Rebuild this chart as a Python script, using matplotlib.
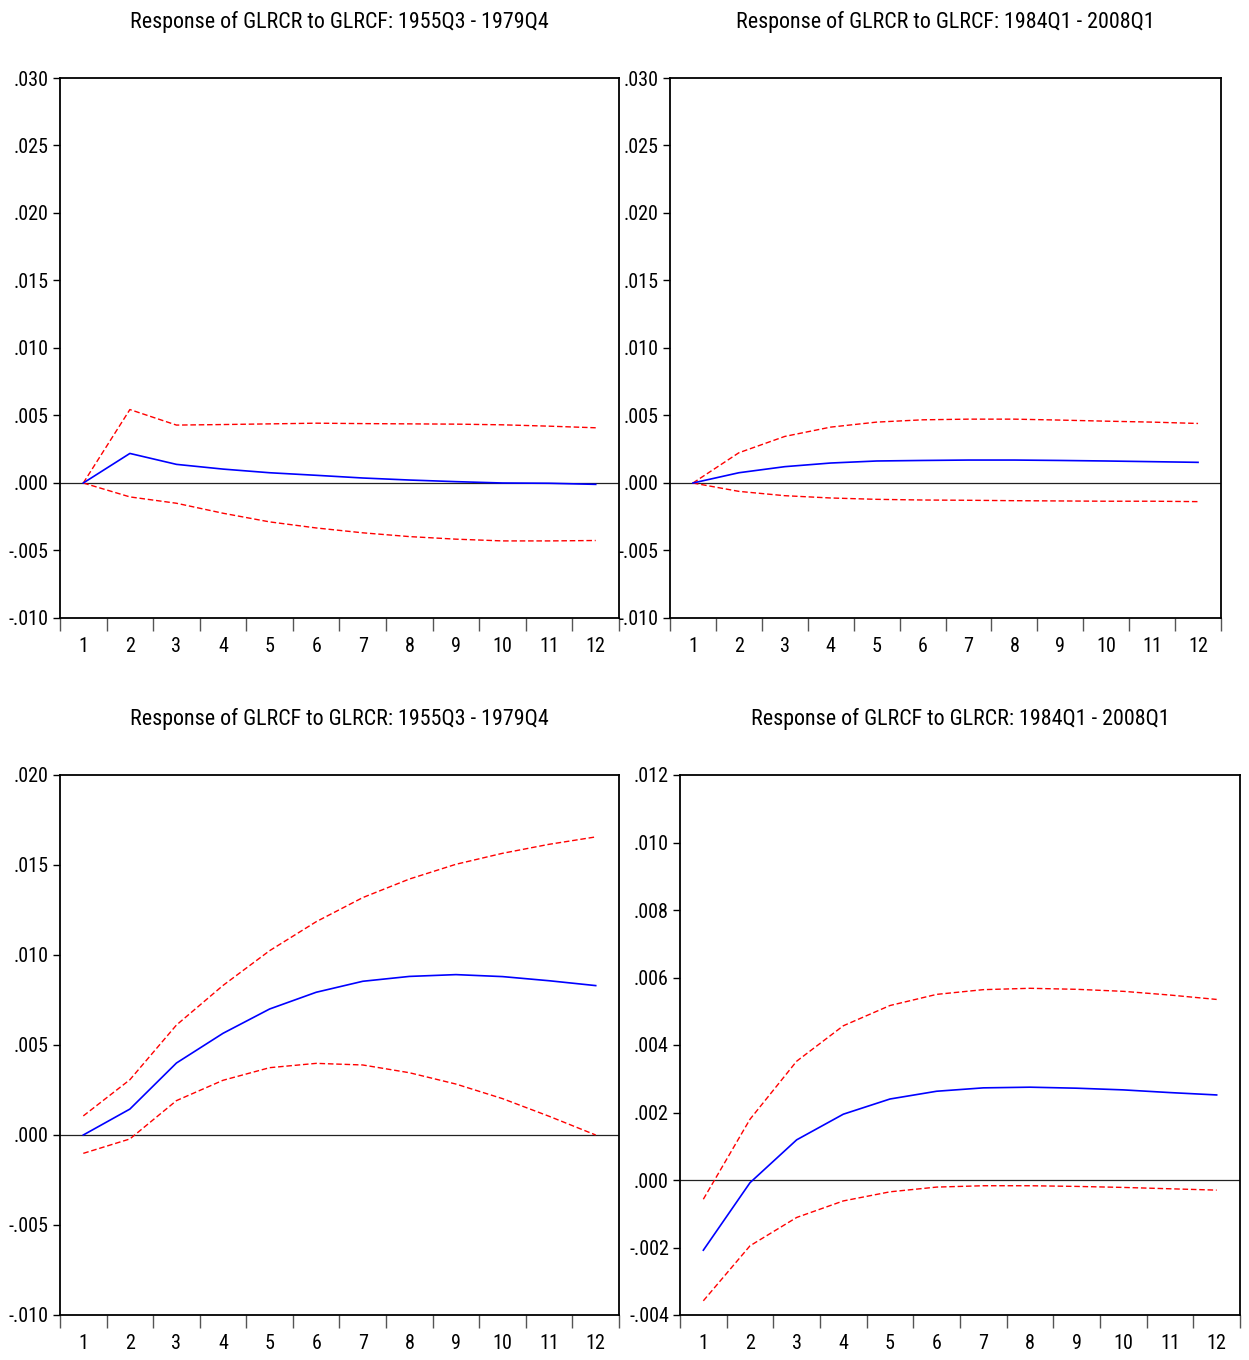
import matplotlib
matplotlib.use("Agg")
import matplotlib.pyplot as plt
from matplotlib import font_manager
from matplotlib.ticker import FuncFormatter, FixedLocator
import numpy as np

# ---- pick a narrow sans font if one is installed ----
_fonts = font_manager.fontManager.ttflist
_names = {f.name for f in _fonts}
_narrow = None
for cand in ['Liberation Sans Narrow', 'Arial Narrow', 'Roboto Condensed', 'Open Sans Condensed',
             'DejaVu Sans Condensed', 'Noto Sans Condensed', 'Noto Sans Display Condensed']:
    if cand in _names:
        _narrow = (cand, 'normal')
        break
if _narrow is None:
    for f in _fonts:
        if str(f.stretch) in ('condensed', 'semi-condensed', 'extra-condensed', '75', '87', '62'):
            _narrow = (f.name, f.stretch)
            break
if _narrow is None:
    _narrow = ('Liberation Sans', 'normal')
    TICK_FS, TITLE_FS = 13, 14.5
else:
    TICK_FS, TITLE_FS = 14.5, 15.8
FONT_FAMILY = [_narrow[0], 'DejaVu Sans']
FONT_STRETCH = _narrow[1]
plt.rcParams['font.family'] = FONT_FAMILY
plt.rcParams['font.stretch'] = FONT_STRETCH

periods = list(range(1, 13))

# Panel 1: Response of GLRCR to GLRCF: 1955Q3 - 1979Q4
p1_resp = [0.0, 0.00219, 0.00138, 0.00103, 0.00076, 0.00057, 0.00037, 0.00022, 0.00010, 0.0, -0.00002, -0.00010]
p1_upper = [0.0, 0.00544, 0.00429, 0.00433, 0.00438, 0.00443, 0.00440, 0.00438, 0.00436, 0.00431, 0.00421, 0.00409]
p1_lower = [0.0, -0.00103, -0.00150, -0.00224, -0.00288, -0.00333, -0.00369, -0.00397, -0.00416, -0.00429, -0.00429, -0.00426]

# Panel 2: Response of GLRCR to GLRCF: 1984Q1 - 2008Q1
p2_resp = [0.0, 0.00076, 0.00121, 0.00148, 0.00163, 0.00167, 0.00170, 0.00170, 0.00167, 0.00163, 0.00158, 0.00153]
p2_upper = [0.0, 0.00224, 0.00345, 0.00414, 0.00451, 0.00468, 0.00473, 0.00473, 0.00466, 0.00458, 0.00451, 0.00441]
p2_lower = [0.0, -0.00062, -0.00094, -0.00111, -0.00121, -0.00126, -0.00128, -0.00131, -0.00133, -0.00135, -0.00135, -0.00138]

# Panel 3: Response of GLRCF to GLRCR: 1955Q3 - 1979Q4
p3_resp = [0.0, 0.00144, 0.00400, 0.00565, 0.00700, 0.00793, 0.00854, 0.00881, 0.00891, 0.00880, 0.00857, 0.00830]
p3_upper = [0.00106, 0.00307, 0.00611, 0.00831, 0.01024, 0.01185, 0.01319, 0.01422, 0.01504, 0.01565, 0.01615, 0.01656]
p3_lower = [-0.00102, -0.00022, 0.00191, 0.00304, 0.00374, 0.00398, 0.00389, 0.00346, 0.00283, 0.00202, 0.00104, 0.0]

# Panel 4: Response of GLRCF to GLRCR: 1984Q1 - 2008Q1
p4_resp = [-0.00208, -0.00008, 0.00119, 0.00195, 0.00240, 0.00263, 0.00273, 0.00275, 0.00272, 0.00267, 0.00259, 0.00252]
p4_upper = [-0.00057, 0.00180, 0.00352, 0.00457, 0.00517, 0.00550, 0.00564, 0.00568, 0.00565, 0.00559, 0.00548, 0.00535]
p4_lower = [-0.00358, -0.00195, -0.00111, -0.00062, -0.00035, -0.00021, -0.00017, -0.00017, -0.00019, -0.00022, -0.00026, -0.00030]

titles = [
    "Response of GLRCR to GLRCF: 1955Q3 - 1979Q4",
    "Response of GLRCR to GLRCF: 1984Q1 - 2008Q1",
    "Response of GLRCF to GLRCR: 1955Q3 - 1979Q4",
    "Response of GLRCF to GLRCR: 1984Q1 - 2008Q1",
]

W, H = 1249, 1360
fig = plt.figure(figsize=(W / 100, H / 100), dpi=100)

# axes boxes in pixels: left, top, right, bottom
boxes = [(60, 78, 619, 618), (670, 78, 1221, 618), (60, 775, 619, 1315), (680, 775, 1240, 1315)]
ylims = [(-0.010, 0.030, 0.005), (-0.010, 0.030, 0.005), (-0.010, 0.020, 0.005), (-0.004, 0.012, 0.002)]
data = [(p1_resp, p1_upper, p1_lower), (p2_resp, p2_upper, p2_lower),
        (p3_resp, p3_upper, p3_lower), (p4_resp, p4_upper, p4_lower)]


def fmt(v, pos):
    s = "%.3f" % v
    if s.startswith("-0"):
        s = "-" + s[2:]
    elif s.startswith("0"):
        s = s[1:]
    if s == "-.000":
        s = ".000"
    return s


for box, yl, d, title in zip(boxes, ylims, data, titles):
    l, t, r, b = box
    ax = fig.add_axes([l / W, 1 - b / H, (r - l) / W, (b - t) / H])
    resp, up, lo = d
    ax.axhline(0, color='#222222', lw=0.9, zorder=1)
    ax.plot(periods, up, color='red', lw=1.0, ls=(0, (4, 2)), zorder=2)
    ax.plot(periods, lo, color='red', lw=1.0, ls=(0, (4, 2)), zorder=2)
    ax.plot(periods, resp, color='blue', lw=1.2, zorder=3)
    ax.set_xlim(0.5, 12.5)
    ax.set_ylim(yl[0], yl[1])
    ax.yaxis.set_major_locator(FixedLocator(np.round(np.arange(yl[0], yl[1] + yl[2] / 2, yl[2]), 4)))
    ax.yaxis.set_major_formatter(FuncFormatter(fmt))
    ax.set_xticks(periods)
    ax.set_xticklabels([str(p) for p in periods])
    ax.set_xticks(np.arange(0.5, 13, 1.0), minor=True)
    ax.tick_params(axis='x', which='major', length=0, pad=14, labelsize=TICK_FS)
    ax.tick_params(axis='x', which='minor', length=9, width=1.0, color='#555555', direction='out')
    ax.tick_params(axis='y', which='major', length=5, width=1.0, direction='out', pad=3, labelsize=TICK_FS)
    for sp in ax.spines.values():
        sp.set_linewidth(1.3)
        sp.set_color('black')
    ax.text(0.5, 1 + 56 / (b - t), title, transform=ax.transAxes, ha='center', va='center', fontsize=TITLE_FS)

fig.savefig("out.png", dpi=100)
